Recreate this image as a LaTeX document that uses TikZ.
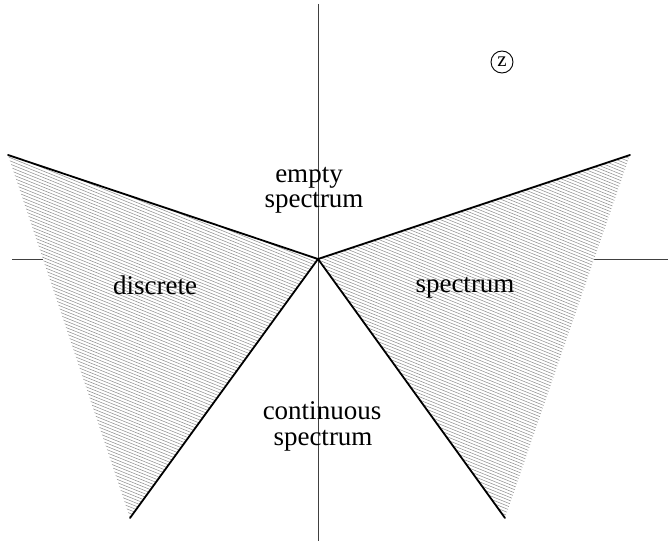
\documentclass[tikz,border=0pt]{standalone}
\usepackage{fontspec}
\setmainfont{Liberation Serif}
\begin{document}
\begin{tikzpicture}[x=1pt,y=-1pt,
  axis/.style={line width=1pt,draw=black!75},
  edge/.style={line width=1.8pt,draw=black},
  hatch/.style={line width=0.5pt,draw=black!45},
  lbl/.style={inner sep=0pt,anchor=base,font=\fontsize{27}{27}\selectfont}]
\useasboundingbox (0,0) rectangle (670,543);
% points
\coordinate (O) at (318,259);
\coordinate (LT) at (8,155);
\coordinate (LB) at (130,518);
\coordinate (RT) at (630,155);
\coordinate (RB) at (505,518);
\coordinate (XL) at (12,259);
\coordinate (XR) at (668,259);
\coordinate (YT) at (318,4);
\coordinate (YB) at (318,541);
% axes
\draw[axis] (XL) -- (XR);
\draw[axis] (YT) -- (YB);
% hatched regions
\begin{scope}
  \clip (LT) -- (O) -- (LB) -- cycle;
  \fill[white] (0,0) rectangle (670,543);
  \foreach \i in {-100,...,180} \draw[hatch] (0,3.2*\i) -- ++(700,283);
\end{scope}
\begin{scope}
  \clip (RT) -- (O) -- (RB) -- cycle;
  \fill[white] (0,0) rectangle (670,543);
  \foreach \i in {-100,...,180} \draw[hatch] (0,3.2*\i) -- ++(700,283);
\end{scope}
% boundary rays
\draw[edge,line cap=round] (LT) -- (O) -- (LB);
\draw[edge,line cap=round] (RT) -- (O) -- (RB);
% labels
\node[lbl] (empty1) at (309,182) {empty};
\node[lbl] (empty2) at (314,207) {spectrum};
\node[lbl] (disc) at (155,294) {discrete};
\node[lbl] (spec) at (465,292) {spectrum};
\node[lbl] (cont1) at (322,419) {continuous};
\node[lbl] (cont2) at (323,445) {spectrum};
\node[circle,draw,line width=0.9pt,inner sep=0pt,minimum size=22pt,font=\fontsize{21}{21}\selectfont] (z) at (502,62) {z};
\end{tikzpicture}
\end{document}
